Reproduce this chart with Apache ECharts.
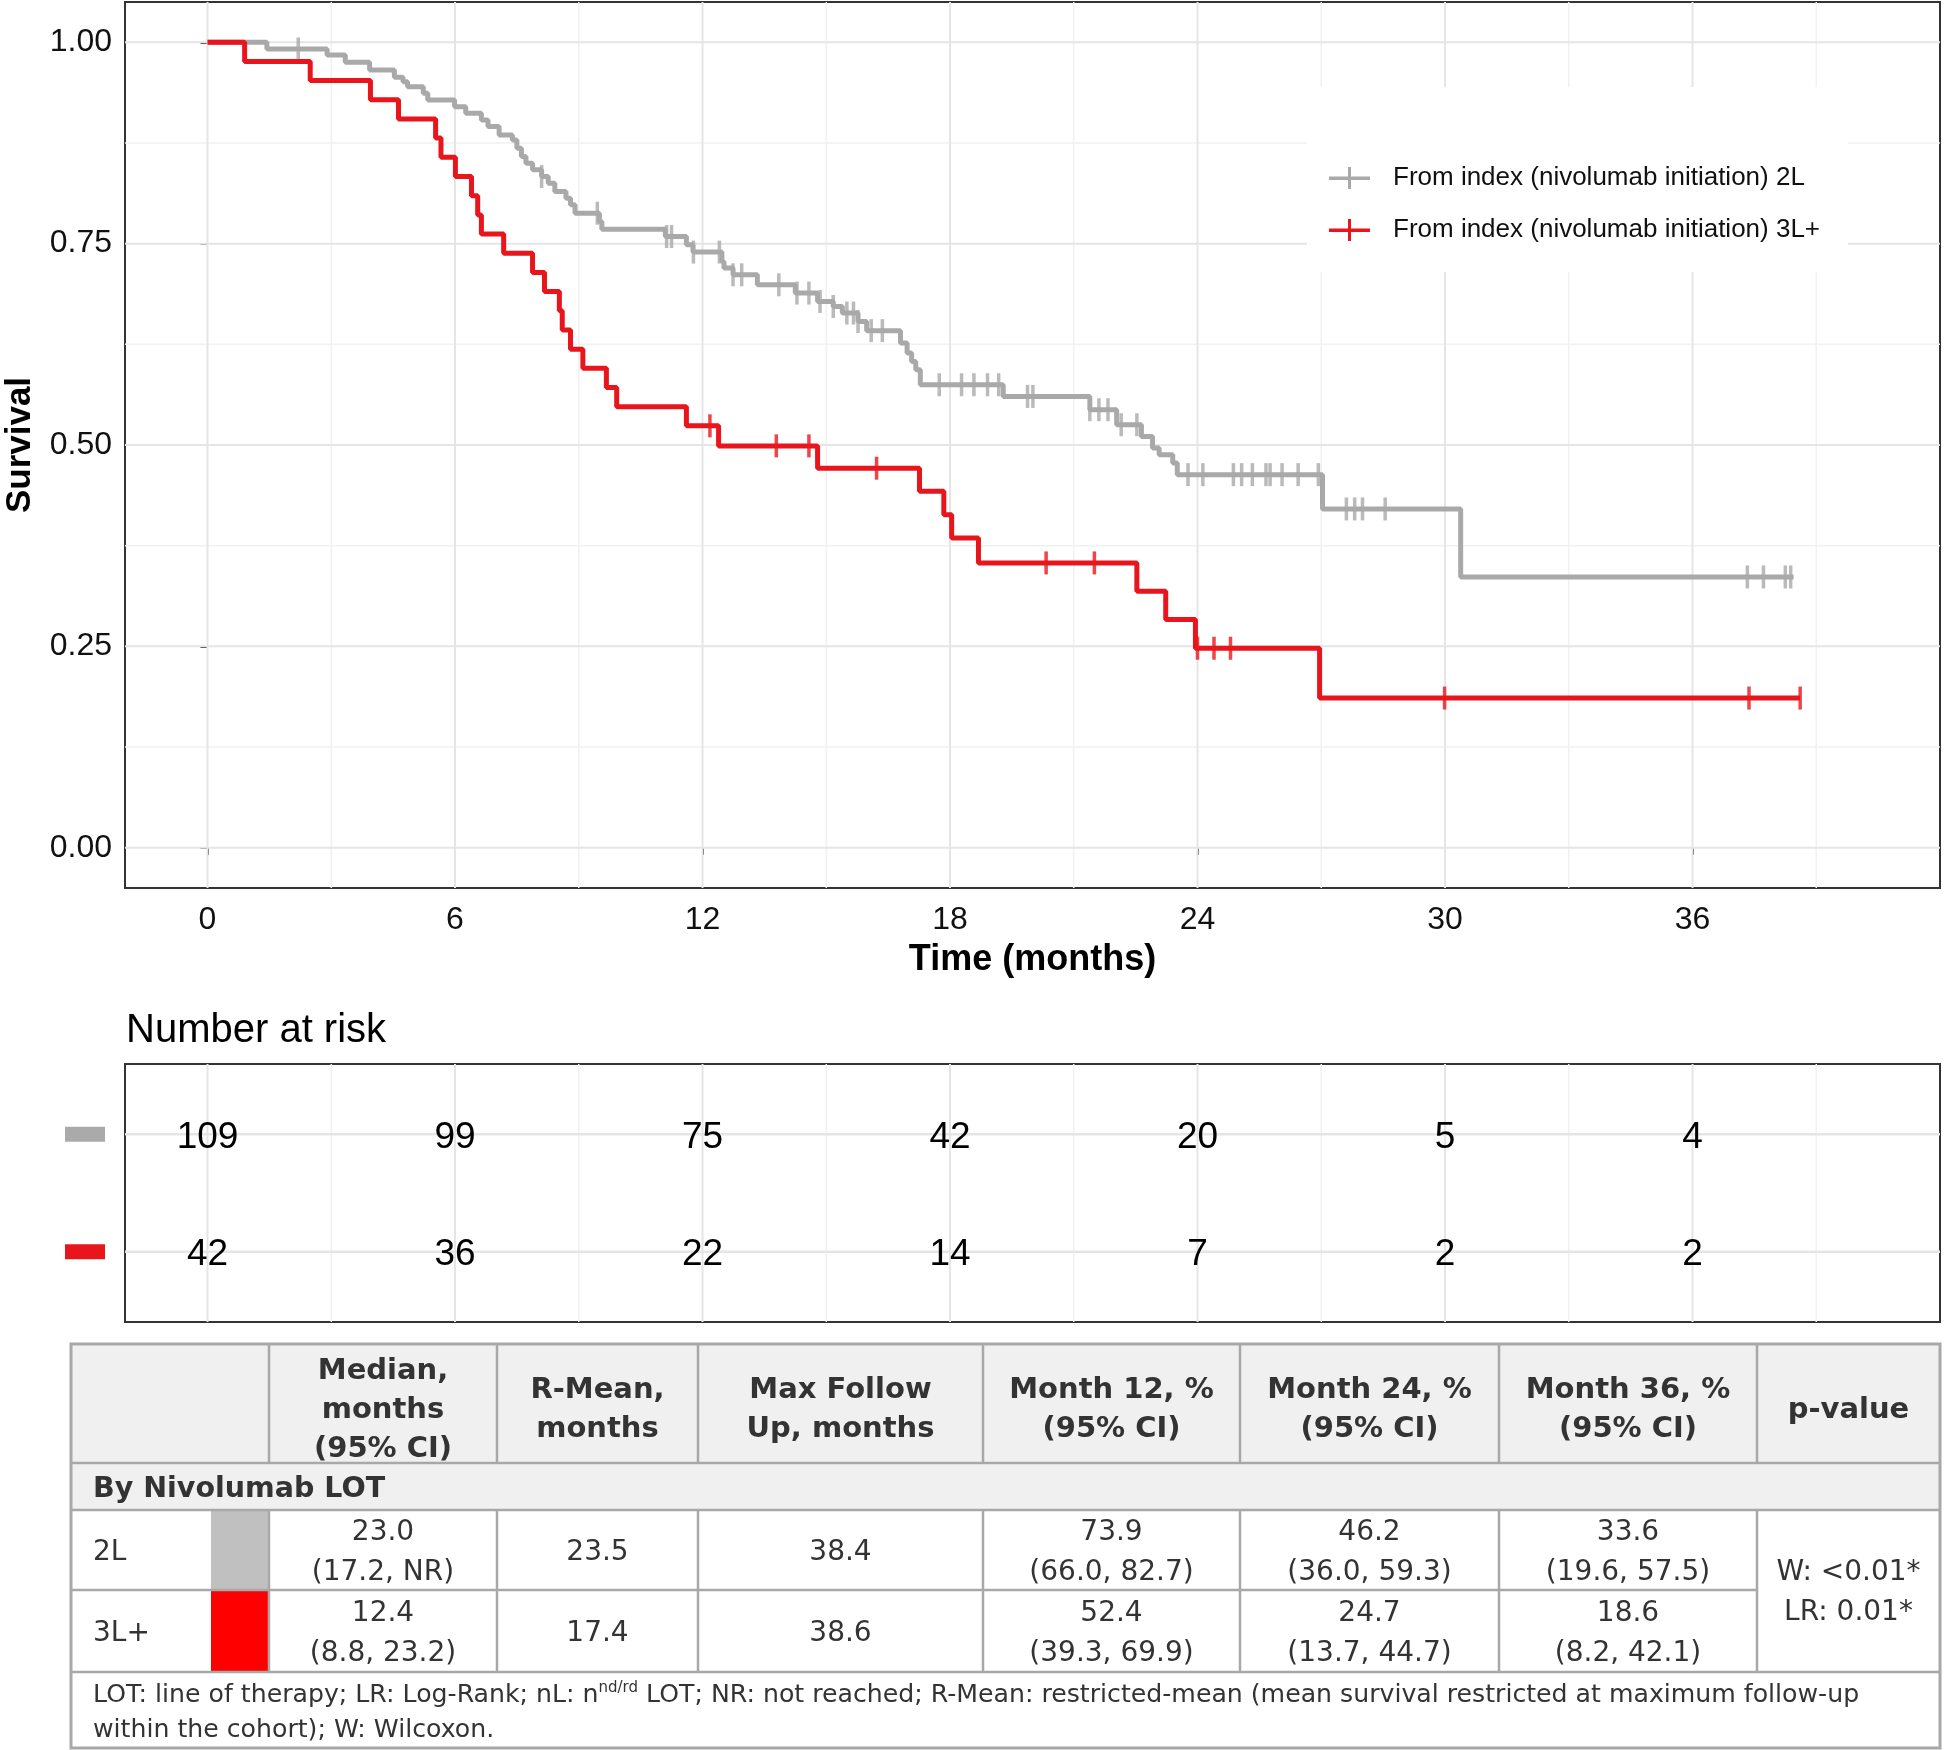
<!DOCTYPE html>
<html><head><meta charset="utf-8">
<script src="https://cdn.jsdelivr.net/npm/echarts@6/dist/echarts.min.js"></script>
<style>html,body{margin:0;padding:0;background:#fff}#c{width:1944px;height:1750px}</style>
</head><body><div id="c"></div>
<script>
// ---------------- DATA ----------------
const seriesNames = ['From index (nivolumab initiation) 2L', 'From index (nivolumab initiation) 3L+'];
// Kaplan-Meier steps: [time (months), survival after the drop]
const km2L = [[0,1],[1.44,0.9917],[2.90,0.9842],[3.34,0.9752],[3.93,0.9656],[4.53,0.9566],[4.74,0.9511],[4.85,0.9449],[5.23,0.9367],[5.34,0.9284],[5.99,0.9201],[6.26,0.9119],[6.64,0.9036],[6.80,0.8953],[7.07,0.8850],[7.39,0.8788],[7.50,0.8685],[7.61,0.8581],[7.72,0.8499],[7.88,0.8416],[8.10,0.8333],[8.26,0.8251],[8.42,0.8147],[8.69,0.8065],[8.80,0.7982],[8.91,0.7878],[9.50,0.7774],[9.56,0.7680],[11.10,0.7588],[11.61,0.7485],[11.77,0.7395],[12.47,0.7279],[12.52,0.7196],[12.74,0.7113],[13.33,0.6989],[14.25,0.6886],[14.79,0.6782],[15.17,0.6720],[15.39,0.6638],[15.77,0.6534],[15.98,0.6420],[16.80,0.6266],[16.96,0.6141],[17.07,0.6037],[17.17,0.5934],[17.28,0.5748],[19.29,0.5603],[21.39,0.5438],[22.04,0.5252],[22.64,0.5107],[22.91,0.4963],[23.07,0.4880],[23.40,0.4777],[23.51,0.4632],[27.03,0.4206],[30.38,0.3362],[38.45,0.3362]];
const censor2L = [2.20,8.10,9.45,11.13,11.25,11.78,12.41,12.74,12.95,13.85,14.29,14.58,14.85,15.17,15.50,15.66,15.77,16.09,16.36,17.74,18.28,18.58,18.91,19.18,19.88,20.01,21.39,21.61,21.83,22.15,22.53,23.77,24.13,24.87,25.07,25.33,25.66,25.76,26.05,26.44,26.93,27.61,27.81,28.00,28.55,37.33,37.72,38.25,38.38];
const km3L = [[0,1],[0.90,0.9762],[2.49,0.9524],[3.95,0.9286],[4.63,0.9048],[5.53,0.8810],[5.66,0.8571],[6.01,0.8333],[6.40,0.8095],[6.55,0.7857],[6.64,0.7619],[7.18,0.7381],[7.88,0.7143],[8.17,0.6905],[8.53,0.6667],[8.60,0.6429],[8.80,0.6190],[9.10,0.5952],[9.67,0.5714],[9.92,0.5476],[11.61,0.5238],[12.39,0.4989],[14.79,0.4712],[17.26,0.4425],[17.85,0.4135],[18.04,0.3846],[18.69,0.3536],[22.53,0.3184],[23.23,0.2833],[23.95,0.2477],[26.96,0.1858],[38.61,0.1858]];
const censor3L = [12.18,13.79,14.58,16.22,20.33,21.50,24.00,24.40,24.80,29.99,37.37,38.61];

const xTicks = [0,6,12,18,24,30,36];
const xMinor = [3,9,15,21,27,33,39];
const yTicks = [0,0.25,0.5,0.75,1];
const yMinor = [0.125,0.375,0.625,0.875];

const riskTimes = [0,6,12,18,24,30,36];
const risk2L = [109,99,75,42,20,5,4];
const risk3L = [42,36,22,14,7,2,2];

const tableHeaders = ['', 'Median,\nmonths\n(95% CI)', 'R-Mean,\nmonths', 'Max Follow\nUp, months', 'Month 12, %\n(95% CI)', 'Month 24, %\n(95% CI)', 'Month 36, %\n(95% CI)', 'p-value'];
const sectionLabel = 'By Nivolumab LOT';
const rowLabels = ['2L', '3L+'];
const colMedian = ['23.0\n(17.2, NR)', '12.4\n(8.8, 23.2)'];
const colRMean = ['23.5', '17.4'];
const colMaxFU = ['38.4', '38.6'];
const colM12 = ['73.9\n(66.0, 82.7)', '52.4\n(39.3, 69.9)'];
const colM24 = ['46.2\n(36.0, 59.3)', '24.7\n(13.7, 44.7)'];
const colM36 = ['33.6\n(19.6, 57.5)', '18.6\n(8.2, 42.1)'];
const pValueText = 'W: <0.01*\nLR: 0.01*';
const footLine1 = 'LOT: line of therapy; LR: Log-Rank; nL: n{sup|nd/rd} LOT; NR: not reached; R-Mean: restricted-mean (mean survival restricted at maximum follow-up';
const footLine2 = 'within the cohort); W: Wilcoxon.';

// ---------------- STYLE / LAYOUT ----------------
const lineColors = ['#a9a9a9', '#e8161c'];
const swatchColors = ['#c0c0c0', '#ff0000'];
const FONT = 'Liberation Sans, Arial, sans-serif';
const TFONT = 'DejaVu Sans, Verdana, sans-serif';
const TXT = '#333333';

function survAt(km, t) { let s = 1; for (const p of km) { if (p[0] <= t) s = p[1]; } return s; }

function vLines(vals, xi, yi, y0, y1, color, w, z) {
  return { type: 'custom', xAxisIndex: xi, yAxisIndex: yi, silent: true, z: z || 1, clip: false,
    data: vals.map(v => [v, y0]),
    renderItem: (p, api) => { const a = api.coord([api.value(0), y0]); const b = api.coord([api.value(0), y1]);
      return { type: 'line', shape: { x1: a[0], y1: a[1], x2: b[0], y2: b[1] }, style: { stroke: color, lineWidth: w } }; } };
}
function hLines(vals, xi, yi, x0, x1, color, w, z) {
  return { type: 'custom', xAxisIndex: xi, yAxisIndex: yi, silent: true, z: z || 1, clip: false,
    data: vals.map(v => [x0, v]),
    renderItem: (p, api) => { const a = api.coord([x0, api.value(1)]); const b = api.coord([x1, api.value(1)]);
      return { type: 'line', shape: { x1: a[0], y1: a[1], x2: b[0], y2: b[1] }, style: { stroke: color, lineWidth: w } }; } };
}

// ---------------- TABLE (graphic) ----------------
const TX = [71, 269, 497, 698, 983, 1240, 1499, 1757, 1940];
const TY = [1344, 1463, 1510, 1590, 1672, 1748];
const G = [];
const BORDER = '#a8a8a8';
G.push({ type: 'rect', shape: { x: TX[0], y: TY[0], width: TX[8] - TX[0], height: TY[2] - TY[0] }, style: { fill: '#f0f0f0' } });
swatchColors.forEach((c, i) => G.push({ type: 'rect', shape: { x: 211, y: TY[2 + i], width: TX[1] - 211, height: TY[3 + i] - TY[2 + i] }, style: { fill: c } }));
function L(x1, y1, x2, y2, w) { G.push({ type: 'line', shape: { x1, y1, x2, y2 }, style: { stroke: BORDER, lineWidth: w || 2.5 } }); }
L(TX[0], TY[1], TX[8], TY[1]); L(TX[0], TY[2], TX[8], TY[2]); L(TX[0], TY[3], TX[7], TY[3]); L(TX[0], TY[4], TX[8], TY[4]);
for (let c = 1; c <= 7; c++) { L(TX[c], TY[0], TX[c], TY[1]); L(TX[c], TY[2], TX[c], TY[4]); }
G.push({ type: 'rect', shape: { x: TX[0], y: TY[0], width: TX[8] - TX[0], height: TY[5] - TY[0] }, style: { fill: 'none', stroke: BORDER, lineWidth: 3 } });
function T(x, y, text, o) {
  G.push({ type: 'text', x, y, z: 10, style: Object.assign({ text, fontFamily: TFONT, fontSize: 28, fill: TXT, align: 'center', verticalAlign: 'middle', lineHeight: 39 }, o || {}) });
}
for (let c = 1; c <= 7; c++) T((TX[c] + TX[c + 1]) / 2, 1410, tableHeaders[c], { fontWeight: 'bold', fontSize: 29 });
T(93, 1490, sectionLabel, { fontWeight: 'bold', fontSize: 28.5, align: 'left' });
const dataCols = [colMedian, colRMean, colMaxFU, colM12, colM24, colM36];
const rowCY = [1553, 1634];
rowLabels.forEach((lab, r) => {
  T(93, rowCY[r], lab, { align: 'left' });
  dataCols.forEach((col, ci) => T((TX[ci + 1] + TX[ci + 2]) / 2, rowCY[r], col[r], { lineHeight: 40 }));
});
T((TX[7] + TX[8]) / 2, 1593, pValueText, { lineHeight: 40 });
G.push({ type: 'text', x: 93, y: 1695, z: 10, style: { text: footLine1, fontFamily: TFONT, fontSize: 25.2, fill: TXT, align: 'left', verticalAlign: 'middle',
  rich: { sup: { fontSize: 15, fontFamily: TFONT, fill: TXT, padding: [0, 0, 13, 0] } } } });
G.push({ type: 'text', x: 93, y: 1730, z: 10, style: { text: footLine2, fontFamily: TFONT, fontSize: 25.2, fill: TXT, align: 'left', verticalAlign: 'middle' } });
// Number at risk title
G.push({ type: 'text', x: 126, y: 1031, style: { text: 'Number at risk', fontFamily: FONT, fontSize: 40, fill: '#000', align: 'left', verticalAlign: 'middle' } });

// ---------------- CHART ----------------
const chart = echarts.init(document.getElementById('c'), null, { renderer: 'canvas' });
const iconCross = 'path://M0,9.5L41,9.5L41,13L0,13Z M19,0L22,0L22,22L19,22Z';
const riskData = [];
riskTimes.forEach((t, i) => { riskData.push([t, 1, risk2L[i]]); riskData.push([t, 2, risk3L[i]]); });

const option = {
  animation: false,
  backgroundColor: '#fff',
  textStyle: { fontFamily: FONT },
  grid: [
    { left: 125, top: 2, width: 1815, height: 886, show: true, borderColor: '#333', borderWidth: 2, backgroundColor: 'transparent', outerBoundsMode: 'none', containLabel: false },
    { left: 125, top: 1064, width: 1815, height: 258, show: true, borderColor: '#333', borderWidth: 2, backgroundColor: 'transparent', outerBoundsMode: 'none', containLabel: false }
  ],
  xAxis: [
    { type: 'value', gridIndex: 0, min: -2, max: 42, axisLine: { show: false },
      axisTick: { show: true, customValues: xTicks, length: 7, lineStyle: { color: '#333', width: 2 } },
      axisLabel: { customValues: xTicks, fontSize: 32, color: '#111', margin: 16, fontFamily: FONT },
      splitLine: { show: false },
      name: 'Time (months)', nameLocation: 'middle', nameGap: 54,
      nameTextStyle: { fontSize: 36, fontWeight: 'bold', color: '#000', fontFamily: FONT } },
    { type: 'value', gridIndex: 1, min: -2, max: 42, axisLine: { show: false }, axisTick: { show: false }, axisLabel: { show: false }, splitLine: { show: false } }
  ],
  yAxis: [
    { type: 'value', gridIndex: 0, min: -0.05, max: 1.05, axisLine: { show: false },
      axisTick: { show: true, customValues: yTicks, length: 7, lineStyle: { color: '#333', width: 2 } },
      axisLabel: { customValues: yTicks, fontSize: 32, color: '#111', margin: 13, fontFamily: FONT, formatter: v => Number(v).toFixed(2) },
      splitLine: { show: false },
      name: 'Survival', nameLocation: 'middle', nameGap: 87,
      nameTextStyle: { fontSize: 35, fontWeight: 'bold', color: '#000', fontFamily: FONT } },
    { type: 'value', gridIndex: 1, min: 0.4, max: 2.6, inverse: true, axisLine: { show: false }, axisTick: { show: false }, splitLine: { show: false },
      axisLabel: { customValues: [1, 2], margin: 20, formatter: v => (Number(v) === 1 ? '{a|}' : '{b|}'),
        rich: { a: { width: 40, height: 15, backgroundColor: '#aaaaaa' }, b: { width: 40, height: 15, backgroundColor: '#e8161c' } } } }
  ],
  legend: {
    data: seriesNames, orient: 'vertical', left: 1307, top: 87, selectedMode: false,
    backgroundColor: '#fff', padding: [78, 28, 29, 22], itemWidth: 41, itemHeight: 22, itemGap: 26,
    icon: iconCross,
    textStyle: { fontSize: 26, color: '#111', fontFamily: FONT, lineHeight: 26, padding: [0, 0, 0, 18] }
  },
  graphic: { elements: G },
  series: [
    vLines(xMinor, 0, 0, -0.05, 1.05, '#f1f1f1', 1.5, 1),
    hLines(yMinor, 0, 0, -2, 42, '#f1f1f1', 1.5, 1),
    vLines(xTicks, 0, 0, -0.05, 1.05, '#e5e5e5', 2, 1),
    hLines(yTicks, 0, 0, -2, 42, '#e5e5e5', 2, 1),
    vLines(xMinor, 1, 1, 0.4, 2.6, '#f1f1f1', 1.5, 1),
    vLines(xTicks, 1, 1, 0.4, 2.6, '#e5e5e5', 2, 1),
    hLines([1, 2], 1, 1, -2, 42, '#e5e5e5', 2.5, 1),
    { name: seriesNames[0], type: 'line', xAxisIndex: 0, yAxisIndex: 0, step: 'end', data: km2L, showSymbol: false, symbol: 'none',
      color: lineColors[0], lineStyle: { color: lineColors[0], width: 5 }, z: 3 },
    { name: seriesNames[1], type: 'line', xAxisIndex: 0, yAxisIndex: 0, step: 'end', data: km3L, showSymbol: false, symbol: 'none',
      color: lineColors[1], lineStyle: { color: lineColors[1], width: 5 }, z: 4 },
    { name: 'censor2L', type: 'scatter', xAxisIndex: 0, yAxisIndex: 0, symbol: 'rect', symbolSize: [3.5, 23], z: 3,
      itemStyle: { color: lineColors[0] }, data: censor2L.map(t => [t, survAt(km2L, t)]) },
    { name: 'censor3L', type: 'scatter', xAxisIndex: 0, yAxisIndex: 0, symbol: 'rect', symbolSize: [3.5, 23], z: 4,
      itemStyle: { color: lineColors[1] }, data: censor3L.map(t => [t, survAt(km3L, t)]) },
    { type: 'custom', xAxisIndex: 1, yAxisIndex: 1, silent: true, z: 5, data: riskData,
      renderItem: (p, api) => { const c = api.coord([api.value(0), api.value(1)]);
        return { type: 'text', x: c[0], y: c[1] + 3, style: { text: String(api.value(2)), fontSize: 37, fontFamily: FONT, fill: '#000', align: 'center', verticalAlign: 'middle' } }; } }
  ]
};
chart.setOption(option);
</script></body></html>
